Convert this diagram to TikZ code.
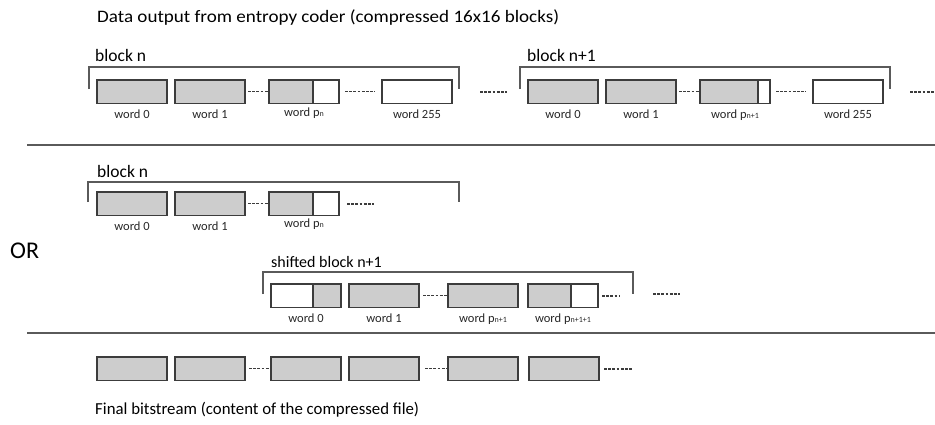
\documentclass[tikz,border=0pt]{standalone}
\usepackage{fontspec}
\setmainfont{Carlito}
\definecolor{boxfill}{HTML}{CDCDCD}
\definecolor{edge}{HTML}{3C3C3C}
\definecolor{brk}{HTML}{5A5A5A}
\newcommand{\subn}[1]{{\fontsize{8}{8}\selectfont #1}}
\tikzset{
  wbox/.style={draw=edge, line width=1.2pt, fill=boxfill, minimum width=70pt,
    minimum height=23.5pt, inner sep=0pt, outer sep=0pt, anchor=north west},
  ebox/.style={wbox, fill=white},
  partfill/.style={wbox, fill=white, path picture={\fill[boxfill]
    (path picture bounding box.south west) rectangle
    ([xshift=#1]path picture bounding box.north west);
    \draw[edge, line width=1.2pt] ([xshift=#1]path picture bounding box.south west) --
    ([xshift=#1]path picture bounding box.north west);}},
  partfillr/.style={wbox, fill=white, path picture={\fill[boxfill]
    ([xshift=#1]path picture bounding box.south west) rectangle
    (path picture bounding box.north east);
    \draw[edge, line width=1.2pt] ([xshift=#1]path picture bounding box.south west) --
    ([xshift=#1]path picture bounding box.north west);}},
  lbl/.style={font=\fontsize{12.5}{12.5}\selectfont, anchor=base, inner sep=0pt, text=black!85},
  gap/.style={draw=edge, line width=1.2pt, dash pattern=on 2.8pt off 1.4pt},
  brace/.style={draw=brk, line width=1.2pt},
  head/.style={font=\fontsize{16.5}{16.5}\selectfont, anchor=base west, inner sep=0pt},
  rule/.style={draw=brk, line width=1.2pt},
}
\begin{document}
\begin{tikzpicture}[x=1pt, y=-1pt]
\useasboundingbox (0,0) rectangle (935,424);

% titles
\node[head, font=\fontsize{17.5}{17.5}\selectfont] (title) at (97,22)
  {\scalebox{1.09}[1]{Data output from entropy coder (compressed 16x16 blocks)}};
\node[head, font=\fontsize{16.8}{16.8}\selectfont] (final) at (95,414)
  {Final bitstream (content of the compressed file)};
\node[head, font=\fontsize{24}{24}\selectfont] (or) at (10,258) {OR};

% rules
\coordinate (r1a) at (27,145); \coordinate (r1b) at (935,145);
\coordinate (r2a) at (27,333); \coordinate (r2b) at (935,333);
\draw[rule] (r1a) -- (r1b);
\draw[rule] (r2a) -- (r2b);

% ---------- row 1 : block n ----------
\node[head, font=\fontsize{17.5}{17.5}\selectfont] (bn) at (95,61) {block n};
\coordinate (bnl) at (89,89); \coordinate (bnr) at (459,89);
\draw[brace] (bnl) -- ++(0,-22) -| (bnr);
\node[wbox] (a0) at (97,80) {};
\node[wbox] (a1) at (175,80) {};
\node[partfill=44pt] (ap) at (269,80) {};
\node[ebox] (a255) at (382,80) {};
\node[lbl] at ([yshift=-15pt]a0.south) {word 0};
\node[lbl] at ([yshift=-15pt]a1.south) {word 1};
\node[lbl] at ([yshift=-13pt]ap.south) {word p\subn{n}};
\node[lbl] at ([yshift=-15pt]a255.south) {word 255};
\draw[gap] ([xshift=3pt]a1.east) -- (ap.west);
\draw[gap] ([xshift=6pt]ap.east) -- ([xshift=-7pt]a255.west);
\coordinate (g1a) at (480,92); \coordinate (g1b) at (507,92);
\draw[gap] (g1a) -- (g1b);

% ---------- row 1 : block n+1 ----------
\node[head, font=\fontsize{17.5}{17.5}\selectfont] (bn1) at (527,61) {block n+1};
\coordinate (cnl) at (520,89); \coordinate (cnr) at (890,89);
\draw[brace] (cnl) -- ++(0,-22) -| (cnr);
\node[wbox] (b0) at (528,80) {};
\node[wbox] (b1) at (606,80) {};
\node[partfill=58pt] (bp) at (700,80) {};
\node[ebox] (b255) at (813,80) {};
\node[lbl] at ([yshift=-15pt]b0.south) {word 0};
\node[lbl] at ([yshift=-15pt]b1.south) {word 1};
\node[lbl] at ([yshift=-15pt]bp.south) {word p\subn{n+1}};
\node[lbl] at ([yshift=-15pt]b255.south) {word 255};
\draw[gap] ([xshift=3pt]b1.east) -- (bp.west);
\draw[gap] ([xshift=6pt]bp.east) -- ([xshift=-7pt]b255.west);
\coordinate (g2a) at (910,92); \coordinate (g2b) at (937,92);
\draw[gap] (g2a) -- (g2b);

% ---------- row 2 : block n ----------
\node[head, font=\fontsize{17.5}{17.5}\selectfont] (mbn) at (97,177) {block n};
\coordinate (mnl) at (88,202); \coordinate (mnr) at (459,202);
\draw[brace] (mnl) -- ++(0,-20) -| (mnr);
\node[wbox] (c0) at (97,192) {};
\node[wbox] (c1) at (175,192) {};
\node[partfill=44pt] (cp) at (269,192) {};
\node[lbl] at ([yshift=-15pt]c0.south) {word 0};
\node[lbl] at ([yshift=-15pt]c1.south) {word 1};
\node[lbl] at ([yshift=-12pt]cp.south) {word p\subn{n}};
\draw[gap] ([xshift=3pt]c1.east) -- (cp.west);
\coordinate (g3a) at (347,204); \coordinate (g3b) at (374,204);
\draw[gap] (g3a) -- (g3b);

% ---------- row 3 : shifted block n+1 ----------
\node[head, font=\fontsize{16}{16}\selectfont] (sbn) at (271,267) {shifted block n+1};
\coordinate (snl) at (263,294); \coordinate (snr) at (633,294);
\draw[brace] (snl) -- ++(0,-22) -| (snr);
\node[partfillr=42pt] (d0) at (271,284) {};
\node[wbox] (d1) at (349,284) {};
\node[wbox] (dp) at (448,284) {};
\node[partfill=43pt] (dq) at (528,284) {};
\node[lbl] at ([yshift=-15pt]d0.south) {word 0};
\node[lbl] at ([yshift=-15pt]d1.south) {word 1};
\node[lbl] at ([yshift=-15pt]dp.south) {word p\subn{n+1}};
\node[lbl] at ([yshift=-15pt]dq.south) {word p\subn{n+1+1}};
\draw[gap] ([xshift=4pt]d1.east) -- (dp.west);
\coordinate (g4a) at (602,296); \coordinate (g4b) at (620,296);
\draw[gap] (g4a) -- (g4b);
\coordinate (g5a) at (653,294); \coordinate (g5b) at (680,294);
\draw[gap] (g5a) -- (g5b);

% ---------- row 4 : final bitstream ----------
\node[wbox] (e0) at (97,357) {};
\node[wbox] (e1) at (175,357) {};
\node[wbox] (e2) at (271,357) {};
\node[wbox] (e3) at (349,357) {};
\node[wbox] (e4) at (448,357) {};
\node[wbox] (e5) at (529,357) {};
\draw[gap] ([xshift=4pt]e1.east) -- (e2.west);
\draw[gap] ([xshift=6pt]e3.east) -- (e4.west);
\coordinate (g6a) at (604,369); \coordinate (g6b) at (632,369);
\draw[gap] (g6a) -- (g6b);
\end{tikzpicture}
\end{document}
